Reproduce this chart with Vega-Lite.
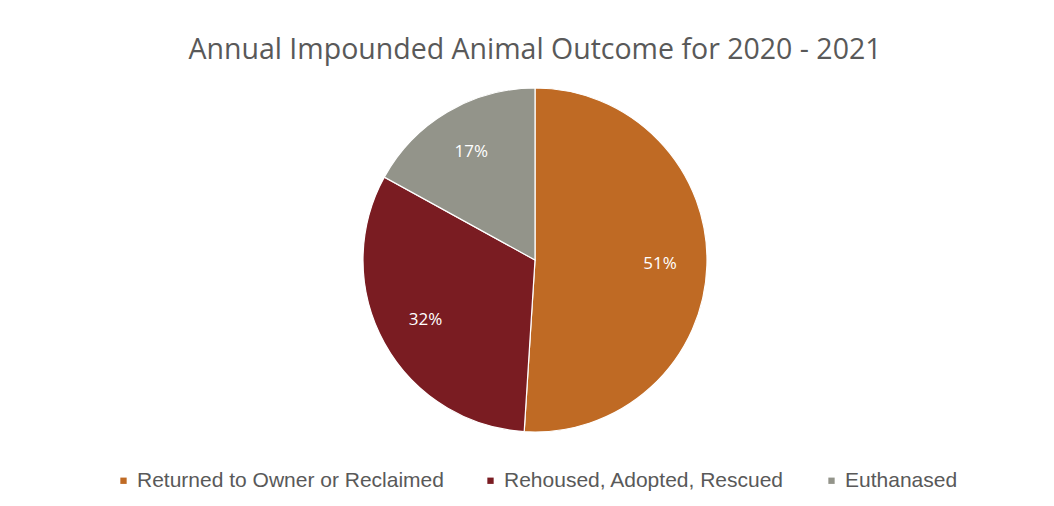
{
  "$schema": "https://vega.github.io/schema/vega-lite/v6.json",
  "width": 1054,
  "height": 506,
  "autosize": {"type": "fit", "contains": "padding"},
  "padding": {"top": 35, "bottom": 60, "left": 18, "right": 2},
  "background": "white",
  "title": {
    "text": "Annual Impounded Animal Outcome for 2020 - 2021",
    "font": "Open Sans",
    "fontSize": 28.5,
    "fontWeight": "normal",
    "color": "#595959",
    "anchor": "middle",
    "offset": 10
  },
  "data": {
    "values": [
      {"category": "Returned to Owner or Reclaimed", "value": 51, "order": 1, "label": "51%"},
      {"category": "Rehoused, Adopted, Rescued", "value": 32, "order": 2, "label": "32%"},
      {"category": "Euthanased", "value": 17, "order": 3, "label": "17%"}
    ]
  },
  "encoding": {
    "theta": {"field": "value", "type": "quantitative", "stack": true},
    "order": {"field": "order", "type": "quantitative"},
    "color": {
      "field": "category",
      "type": "nominal",
      "sort": ["Returned to Owner or Reclaimed", "Rehoused, Adopted, Rescued", "Euthanased"],
      "scale": {
        "domain": ["Returned to Owner or Reclaimed", "Rehoused, Adopted, Rescued", "Euthanased"],
        "range": ["#BF6A24", "#7A1C22", "#93948A"]
      },
      "legend": {
        "title": null,
        "orient": "none",
        "legendX": 95,
        "legendY": 396,
        "direction": "horizontal",
        "symbolType": "square",
        "symbolSize": 40,
        "symbolStrokeWidth": 0,
        "labelFont": "Liberation Sans",
        "labelFontSize": 21,
        "labelColor": "#595959",
        "labelLimit": 0,
        "labelOffset": 3,
        "columnPadding": 36
      }
    }
  },
  "layer": [
    {
      "mark": {"type": "arc", "outerRadius": 172, "stroke": "#ffffff", "strokeWidth": 1.2}
    },
    {
      "mark": {"type": "text", "radius": 125, "font": "Open Sans", "fontSize": 17},
      "encoding": {
        "text": {"field": "label", "type": "nominal"},
        "color": {"value": "#ffffff"}
      }
    }
  ],
  "config": {"view": {"stroke": null}}
}
